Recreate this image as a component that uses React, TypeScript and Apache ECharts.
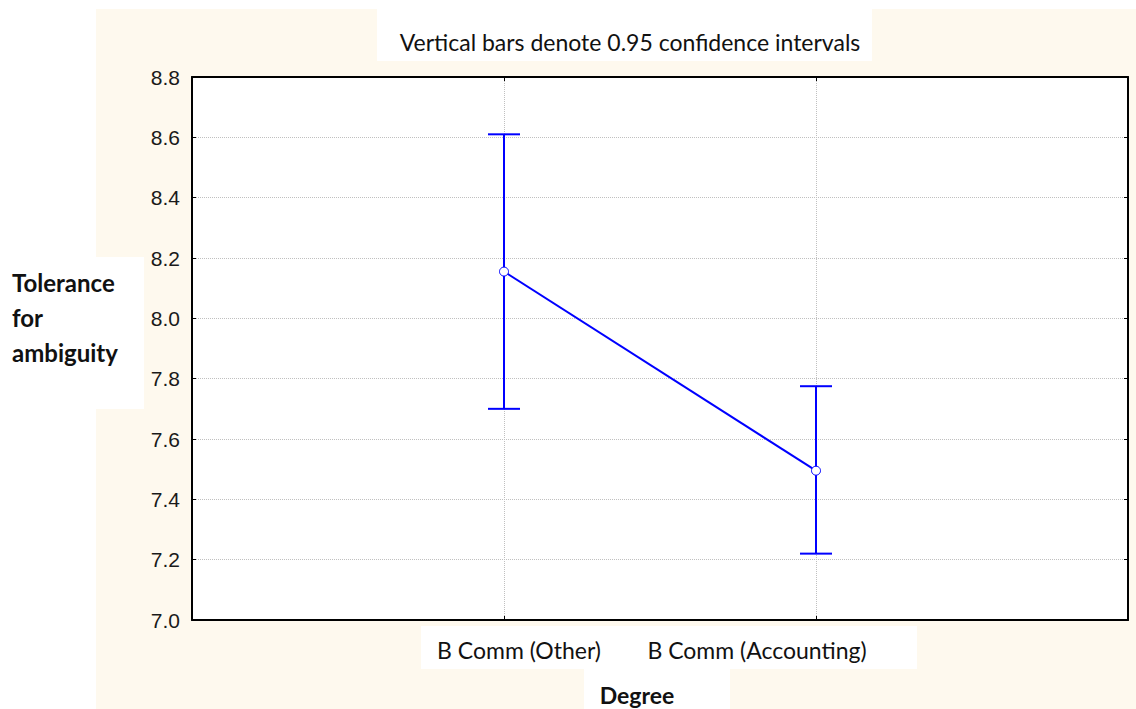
import React, { useEffect, useRef } from "react";
import * as echarts from "echarts";

const categories = ["B Comm (Other)", "B Comm (Accounting)"];
const means = [8.155, 7.495];
const upper = [8.61, 7.775];
const lower = [7.7, 7.22];
const yTicks = { min: 7.0, max: 8.8, step: 0.2 };
const titleText = "Vertical bars denote 0.95 confidence intervals";
const yName = "Tolerance\nfor\nambiguity";
const xName = "Degree";

const BLUE = "#0000ff";
const CREAM = "#fef9ee";

export default function App() {
  const ref = useRef<HTMLDivElement>(null);
  useEffect(() => {
    if (!ref.current) return;
    const chart = echarts.init(ref.current, undefined, { renderer: "svg" });
    const axisCats = ["", ...categories, ""];
    const lineData = means.map((m, i) => [i + 1, m]);
    const errData = means.map((_, i) => [i + 1, lower[i], upper[i]]);
    const labelFont = "Lato, 'Open Sans', sans-serif";
    chart.setOption({
      animation: false,
      backgroundColor: "#ffffff",
      title: {
        text: titleText,
        left: 625,
        top: 25,
        textAlign: "center",
        textStyle: { fontFamily: labelFont, fontWeight: "normal", fontSize: 23, color: "#111" },
      },
      graphic: [
        { type: "rect", z: -100, silent: true, shape: { x: 96, y: 9, width: 1040, height: 700 }, style: { fill: CREAM } },
        { type: "rect", z: -99, silent: true, shape: { x: 377, y: 9, width: 495, height: 52 }, style: { fill: "#fff" } },
        { type: "rect", z: -99, silent: true, shape: { x: 0, y: 257, width: 144, height: 152 }, style: { fill: "#fff" } },
        { type: "rect", z: -99, silent: true, shape: { x: 421, y: 626, width: 496, height: 43 }, style: { fill: "#fff" } },
        { type: "rect", z: -99, silent: true, shape: { x: 584, y: 669, width: 146, height: 40 }, style: { fill: "#fff" } },
        {
          type: "text",
          z: 10,
          x: 12,
          y: 265,
          style: {
            text: yName,
            fontFamily: labelFont,
            fontWeight: "bold",
            fontSize: 24,
            lineHeight: 35,
            fill: "#111",
            align: "left",
            verticalAlign: "top",
          },
        },
      ],
      grid: {
        left: 192,
        top: 77,
        width: 936,
        height: 543,
        show: true,
        backgroundColor: "#fff",
        borderWidth: 0,
        containLabel: false,
        outerBoundsMode: "none",
      },
      xAxis: [
        {
          type: "category",
          data: axisCats,
          boundaryGap: false,
          position: "bottom",
          axisLine: { show: true, lineStyle: { color: "#000", width: 2 } },
          axisTick: { show: true, inside: true, length: 4, interval: 0, lineStyle: { color: "#000" } },
          splitLine: { show: true, interval: 0, lineStyle: { color: "#c0c0c0", type: "dotted", width: 1 } },
          axisLabel: {
            interval: 0,
            hideOverlap: false,
            margin: 18,
            fontFamily: labelFont,
            fontSize: 23,
            color: "#111",
            formatter: (v: string) => {
              if (v === categories[0]) return "{a|" + v + "}";
              if (v === categories[1]) return "{b|" + v + "}";
              return "";
            },
            rich: {
              a: { fontFamily: labelFont, fontSize: 23, color: "#111", padding: [0, 0, 0, 30] },
              b: { fontFamily: labelFont, fontSize: 23, color: "#111", padding: [0, 118, 0, 0] },
            },
          },
          name: xName,
          nameLocation: "middle",
          nameGap: 63,
          nameTextStyle: {
            fontFamily: labelFont,
            fontWeight: "bold",
            fontSize: 23,
            color: "#111",
            padding: [0, 46, 0, 0],
          },
        },
        {
          type: "category",
          data: axisCats,
          boundaryGap: false,
          position: "top",
          axisLine: { show: true, lineStyle: { color: "#000", width: 2 } },
          axisTick: { show: true, inside: true, length: 4, interval: 0, lineStyle: { color: "#000" } },
          axisLabel: { show: false, interval: 0 },
          splitLine: { show: false },
        },
      ],
      yAxis: [
        {
          type: "value",
          min: yTicks.min,
          max: yTicks.max,
          interval: yTicks.step,
          position: "left",
          axisLine: { show: true, lineStyle: { color: "#000", width: 2 } },
          axisTick: { show: true, inside: true, length: 4, lineStyle: { color: "#000" } },
          splitLine: { show: true, lineStyle: { color: "#c0c0c0", type: "dotted", width: 1 } },
          axisLabel: {
            margin: 12,
            fontFamily: "'Liberation Sans', Arial, sans-serif",
            fontSize: 21,
            color: "#1a1a1a",
            formatter: (v: number) => v.toFixed(1),
          },
        },
        {
          type: "value",
          min: yTicks.min,
          max: yTicks.max,
          interval: yTicks.step,
          position: "right",
          axisLine: { show: true, lineStyle: { color: "#000", width: 2 } },
          axisTick: { show: true, inside: true, length: 4, lineStyle: { color: "#000" } },
          splitLine: { show: false },
          axisLabel: { show: false },
        },
      ],
      series: [
        {
          type: "custom",
          z: 2,
          data: errData,
          renderItem: (params: any, api: any) => {
            const x = api.value(0);
            const lo = api.coord([x, api.value(1)]);
            const hi = api.coord([x, api.value(2)]);
            const half = 16;
            const style = { stroke: BLUE, lineWidth: 2 };
            return {
              type: "group",
              children: [
                { type: "line", shape: { x1: lo[0], y1: lo[1], x2: hi[0], y2: hi[1] }, style },
                { type: "line", shape: { x1: hi[0] - half, y1: hi[1], x2: hi[0] + half, y2: hi[1] }, style },
                { type: "line", shape: { x1: lo[0] - half, y1: lo[1], x2: lo[0] + half, y2: lo[1] }, style },
              ],
            };
          },
        },
        {
          type: "line",
          z: 3,
          data: lineData,
          symbol: "circle",
          symbolSize: 9,
          lineStyle: { color: BLUE, width: 2 },
          itemStyle: { color: "#fff", borderColor: BLUE, borderWidth: 1 },
        },
      ],
    });
    return () => chart.dispose();
  }, []);
  return (
    <div
      ref={ref}
      style={{ position: "absolute", left: 0, top: 0, width: 1136, height: 709 }}
    />
  );
}
